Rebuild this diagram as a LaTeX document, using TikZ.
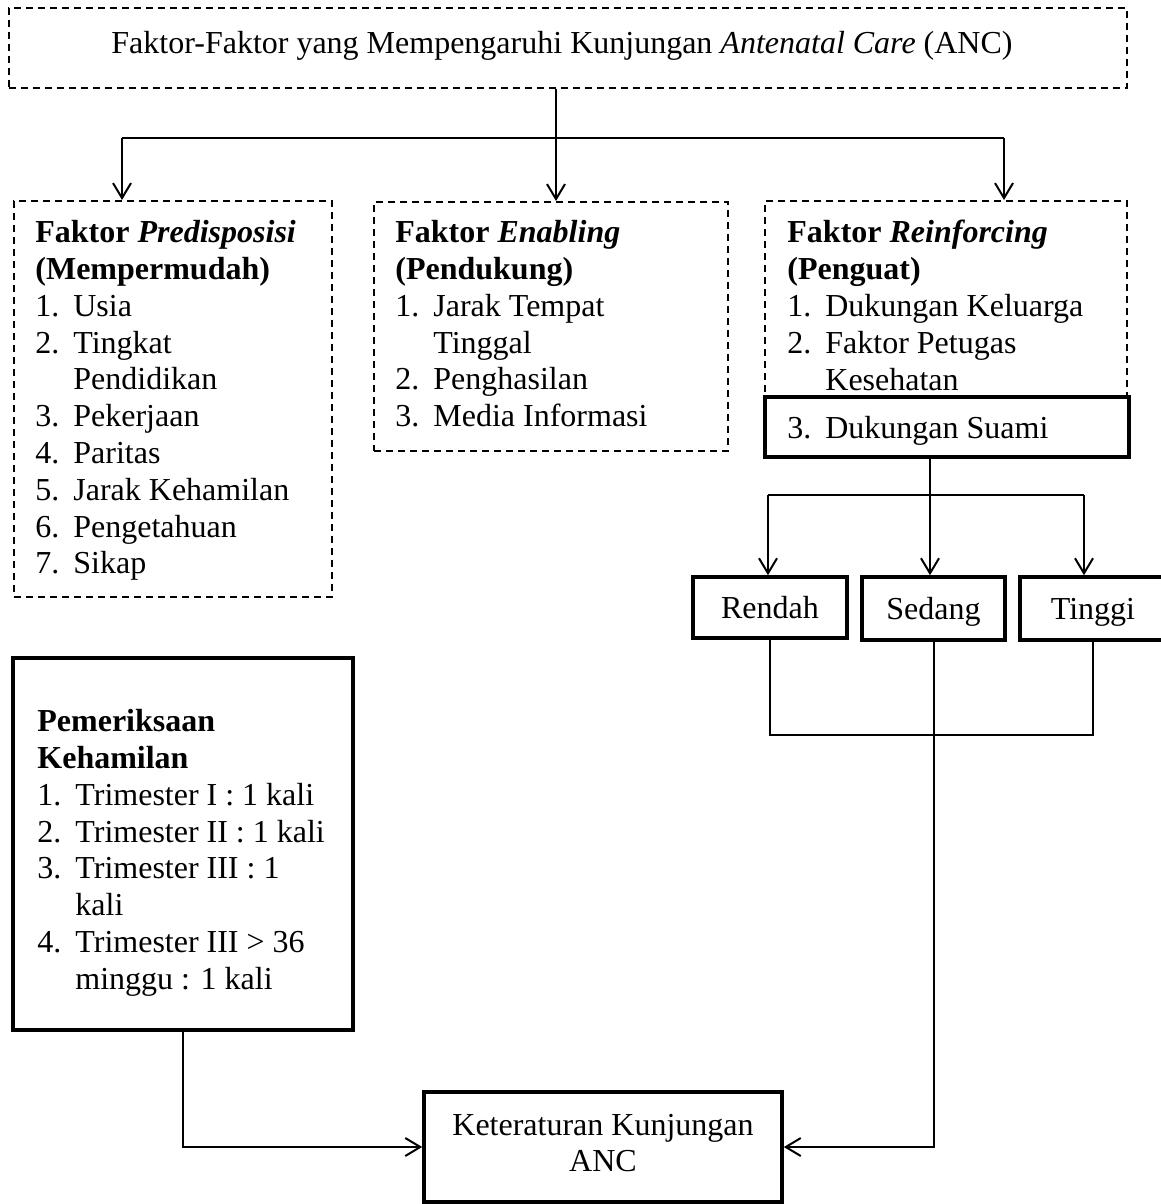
\documentclass[tikz,border=0pt]{standalone}
\usepackage{fontspec}
\setmainfont{Liberation Serif}
\usetikzlibrary{arrows.meta,fit}
\tikzset{
  dashbox/.style={draw, line width=1pt, dash pattern=on 3.5pt off 2.5pt, inner sep=0pt},
  thickbox/.style={draw, line width=1.8pt, inner sep=0pt},
  conn/.style={line width=1pt},
  arr/.style={conn, -{Straight Barb[length=7.5pt,width=9pt]}},
  listtext/.style={anchor=north west, inner sep=0pt, align=left},
  boxtext/.style={inner sep=0pt, text depth=0pt},
}
\newcommand{\itm}[2]{\makebox[19pt][l]{#1}#2}
\newcommand{\cnt}[1]{\hspace*{19pt}#1}

\begin{document}
\begin{tikzpicture}[x=0.5pt, y=-0.5pt, font=\fontsize{16pt}{18.4pt}\selectfont]
  \useasboundingbox (0,0) rectangle (1161,1204);

  % top box
  \node[dashbox, fit={(9,8) (1127,88)}] (tbox) {};
  \node[inner sep=0pt] (tboxtext) at ([xshift=-3pt,yshift=1pt]tbox.center) {Faktor-Faktor yang Mempengaruhi Kunjungan \textit{Antenatal Care} (ANC)};

  % three factor boxes
  \node[dashbox, fit={(14,201) (332,597)}] (pre) {};
  \node[listtext] (pretext) at (35,220) {\textbf{Faktor \textit{Predisposisi}}\\
    \textbf{(Mempermudah)}\\
    \itm{1.}{Usia}\\
    \itm{2.}{Tingkat}\\
    \cnt{Pendidikan}\\
    \itm{3.}{Pekerjaan}\\
    \itm{4.}{Paritas}\\
    \itm{5.}{Jarak Kehamilan}\\
    \itm{6.}{Pengetahuan}\\
    \itm{7.}{Sikap}};

  \node[dashbox, fit={(374,202) (728,451)}] (enb) {};
  \node[listtext] (enbtext) at (395,220) {\textbf{Faktor \textit{Enabling}}\\
    \textbf{(Pendukung)}\\
    \itm{1.}{Jarak Tempat}\\
    \cnt{Tinggal}\\
    \itm{2.}{Penghasilan}\\
    \itm{3.}{Media Informasi}};

  \node[dashbox, fit={(765,201) (1127,397)}] (rei) {};
  \node[listtext] (reitext) at (787,220) {\textbf{Faktor \textit{Reinforcing}}\\
    \textbf{(Penguat)}\\
    \itm{1.}{Dukungan Keluarga}\\
    \itm{2.}{Faktor Petugas}\\
    \cnt{Kesehatan}};

  \node[thickbox, fill=white, fit={(765,397) (1129,457)}] (sua) {};
  \node[anchor=base west, inner sep=0pt] (suatext) at (787,438) {\itm{3.}{Dukungan Suami}};

  % categories
  \node[thickbox, fit={(693,577) (847,638)}] (ren) {};
  \node[thickbox, fit={(862,577) (1005,640)}] (sed) {};
  \node[thickbox, fit={(1020,577) (1166,640)}] (tin) {};
  \node[boxtext] (rentext) at (ren.center) {Rendah};
  \node[boxtext] (sedtext) at (sed.center) {Sedang};
  \node[boxtext] (tintext) at (tin.center) {Tinggi};

  % pemeriksaan
  \node[thickbox, fit={(13,658) (353,1030)}] (pem) {};
  \node[listtext] (pemtext) at (37,709) {\textbf{Pemeriksaan}\\
    \textbf{Kehamilan}\\
    \itm{1.}{Trimester I : 1 kali}\\
    \itm{2.}{Trimester II : 1 kali}\\
    \itm{3.}{Trimester III : 1}\\
    \cnt{kali}\\
    \itm{4.}{Trimester III > 36}\\
    \cnt{minggu : 1 kali}};

  % outcome
  \node[thickbox, fit={(424,1092) (782,1202)}] (ket) {};
  \node[inner sep=0pt, align=center] (kettext) at ([yshift=2pt]ket.center) {Keteraturan Kunjungan\\ANC};

  % connectors
  \coordinate (split) at (556,138);
  \coordinate (splitL) at (122,138);
  \coordinate (splitR) at (1004,138);
  \draw[conn] (tbox.south -| split) -- (split);
  \draw[conn] (splitL) -- (splitR);
  \draw[arr] (splitL) -- (splitL |- pre.north);
  \draw[arr] (split) -- (split |- enb.north);
  \draw[arr] (splitR) -- (splitR |- rei.north);

  \coordinate (split2) at (930,495);
  \coordinate (split2L) at (768,495);
  \coordinate (split2R) at (1084,495);
  \draw[conn] (sua.south -| split2) -- (split2);
  \draw[conn] (split2L) -- (split2R);
  \draw[arr] (split2L) -- (split2L |- ren.north);
  \draw[arr] (split2) -- (split2 |- sed.north);
  \draw[arr] (split2R) -- (split2R |- tin.north);

  \coordinate (merge) at (930,735);
  \draw[conn] (ren.south) |- (merge) -| (tin.south);
  \draw[arr] (sed.south) |- (ket.east);
  \draw[arr] (pem.south) |- (ket.west);
\end{tikzpicture}
\end{document}
